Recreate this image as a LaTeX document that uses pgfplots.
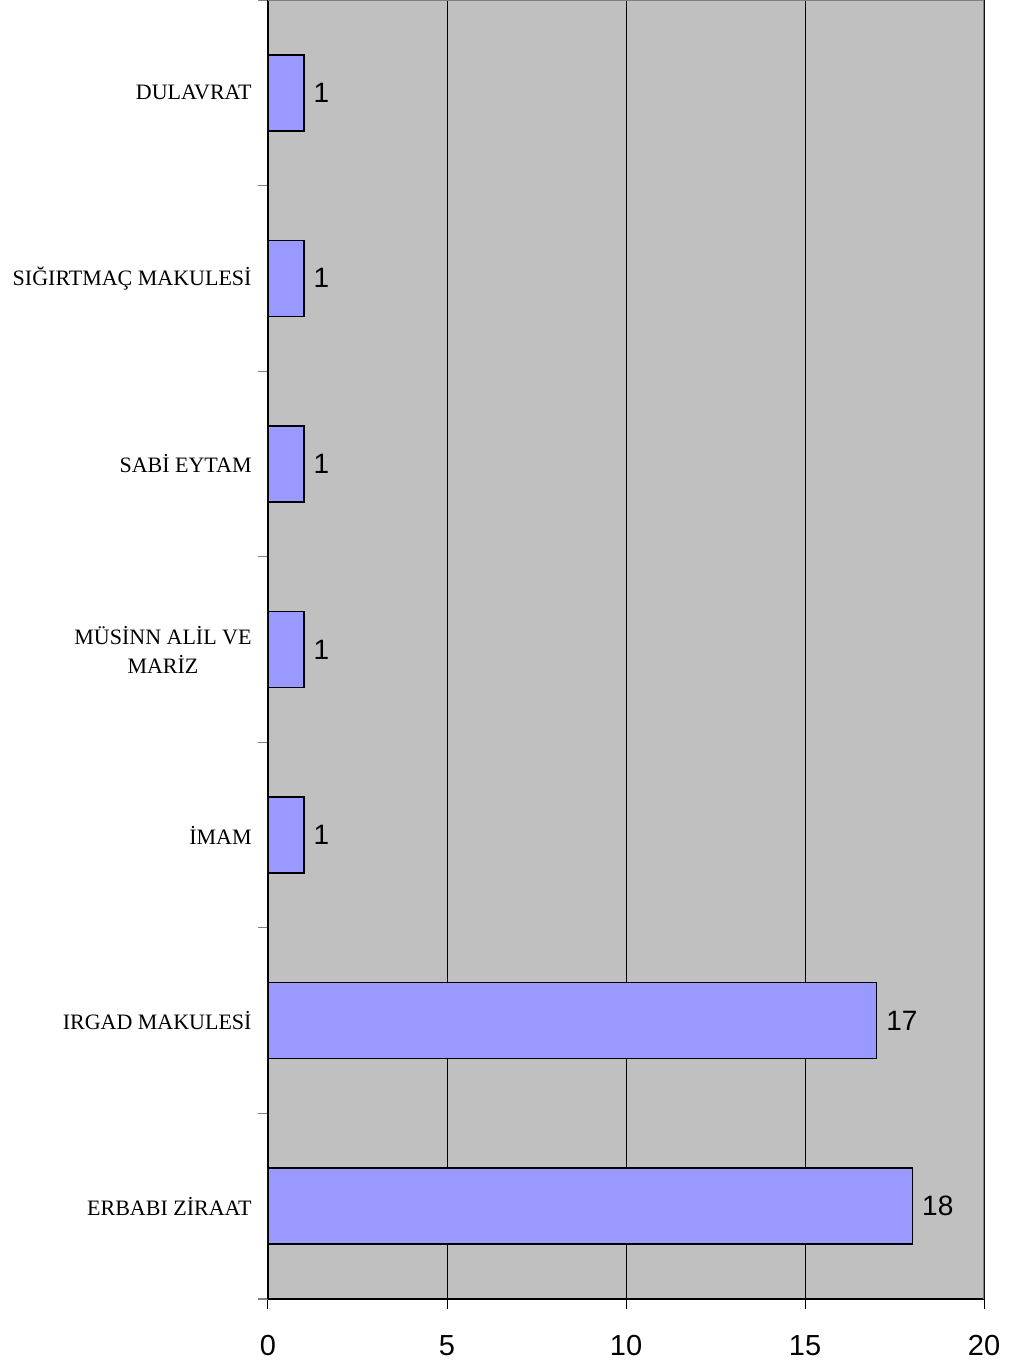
\documentclass[border=0pt]{standalone}
\usepackage{fontspec}
\setmainfont{Liberation Serif}
\newfontfamily\numfont{Liberation Sans}
\usepackage{pgfplots}
\pgfplotsset{compat=1.18}
\definecolor{bg}{HTML}{C0C0C0}
\definecolor{barc}{HTML}{9999FF}
\definecolor{framec}{HTML}{808080}
\begin{document}
\begin{tikzpicture}
\begin{axis}[
  scale only axis, width=358pt, height=649.5pt,
  xbar, bar width=38pt,
  xmin=0, xmax=20, ymin=-0.5, ymax=6.5,
  axis x line*=bottom, axis y line*=left,
  axis line style={-, black, line width=0.75pt},
  axis background/.style={fill=bg},
  xtick={0,5,...,20},
  xmajorgrids, major x grid style={black, line width=0.5pt},
  tick align=outside,
  major tick length=5pt,
  x tick style={black, line width=0.5pt},
  y tick style={framec, line width=0.6pt},
  ytick={-0.5,0.5,...,6.5},
  yticklabels={},
  extra y ticks={0,1,2,3,4,5,6},
  extra y tick labels={ERBABI ZİRAAT, IRGAD MAKULESİ, İMAM, {MÜSİNN ALİL VE\\MARİZ}, SABİ EYTAM, SIĞIRTMAÇ MAKULESİ, DULAVRAT},
  extra y tick style={major tick length=0pt, tick style={draw=none}},
  yticklabel style={font=\fontsize{11}{14.5}\selectfont, align=center, inner sep=0pt, xshift=-8pt},
  xticklabel style={font=\numfont\fontsize{14.5}{16}\selectfont, inner sep=0pt, yshift=-13pt},
  /pgf/number format/assume math mode=true,
  nodes near coords,
  every node near coord/.append style={font=\numfont\fontsize{14}{16}\selectfont, anchor=west, inner sep=0pt, xshift=4.5pt, black},
]
\addplot[fill=barc, draw=black, line width=0.8pt] coordinates {(18,0) (17,1) (1,2) (1,3) (1,4) (1,5) (1,6)};
\draw[framec, line width=0.8pt] (rel axis cs:0,1) -- (rel axis cs:1,1) -- (rel axis cs:1,0);
\coordinate (bl) at (rel axis cs:0,0);
\coordinate (tr) at (rel axis cs:1,1);
\end{axis}
\pgfresetboundingbox
\path ([shift={(-134pt,-34.5pt)}]bl) rectangle ([shift={(16.5pt,0pt)}]tr);
\end{tikzpicture}
\end{document}
